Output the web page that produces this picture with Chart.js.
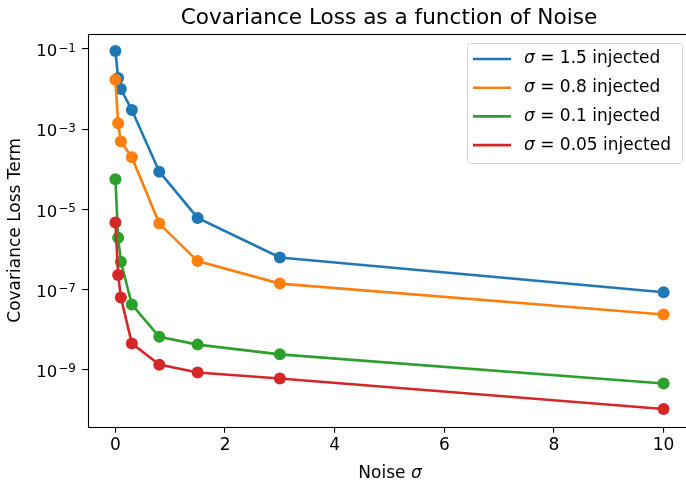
<!DOCTYPE html>
<html>
<head>
<meta charset="utf-8">
<script src="https://cdn.jsdelivr.net/npm/chart.js@4"></script>
<style>
  html, body { margin: 0; padding: 0; background: #fff; overflow: hidden; }
  #outer { width: 686px; height: 480px; overflow: hidden; }
  #wrap { width: 691px; height: 480px; }
</style>
</head>
<body>
<div id="outer"><div id="wrap"><canvas id="chart"></canvas></div></div>
<script>
// Datos
const noise = [0, 0.05, 0.1, 0.3, 0.8, 1.5, 3, 10];
const injected = ["1.5", "0.8", "0.1", "0.05"];
const loss15 = [8.9e-2, 1.9e-2, 1.0e-2, 3.0e-3, 8.7e-5, 6.1e-6, 6.3e-7, 8.5e-8];
const loss08 = [1.7e-2, 1.4e-3, 4.9e-4, 2.0e-4, 4.4e-6, 5.1e-7, 1.4e-7, 2.37e-8];
const loss01 = [5.6e-5, 1.96e-6, 4.9e-7, 4.2e-8, 6.6e-9, 4.2e-9, 2.4e-9, 4.5e-10];
const loss005 = [4.7e-6, 2.3e-7, 6.3e-8, 4.5e-9, 1.33e-9, 8.5e-10, 6.0e-10, 1.04e-10];
const yTicks = [1e-9, 1e-7, 1e-5, 1e-3, 1e-1];
const yTickExp = ["−9", "−7", "−5", "−3", "−1"];
const xTicks = [0, 2, 4, 6, 8, 10];

const colors = ["#1f77b4", "#ff7f0e", "#2ca02c", "#d62728"];
const series = [loss15, loss08, loss01, loss005];
const FONT = "'DejaVu Sans', sans-serif";

const datasets = series.map((vals, i) => ({
  label: "σ = " + injected[i] + " injected",
  data: noise.map((x, j) => ({ x: x, y: vals[j] })),
  borderColor: colors[i],
  backgroundColor: colors[i],
  pointBackgroundColor: colors[i],
  pointBorderWidth: 0,
  pointRadius: 6,
  borderWidth: 2.6,
  tension: 0,
  order: 3 - i
}));

// Marco, título, etiquetas del eje y, etiqueta del eje x y leyenda
const decor = {
  id: "decor",
  afterDraw(chart) {
    const { ctx, chartArea: a } = chart;
    ctx.save();
    ctx.strokeStyle = "#000";
    ctx.lineWidth = 1.1;
    ctx.strokeRect(Math.round(a.left) + 0.5, Math.round(a.top) + 0.5,
      Math.round(a.right - a.left), Math.round(a.bottom - a.top));

    ctx.fillStyle = "#000";
    ctx.textBaseline = "alphabetic";
    ctx.textAlign = "center";
    ctx.font = "21.6px " + FONT;
    ctx.fillText("Covariance Loss as a function of Noise", 389, 24);

    // etiquetas 10^n
    const ys = chart.scales.y;
    ctx.textAlign = "left";
    yTicks.forEach((v, i) => {
      const py = ys.getPixelForValue(v);
      ctx.font = "12px " + FONT;
      const ew = ctx.measureText(yTickExp[i]).width;
      ctx.font = "16.5px " + FONT;
      const bw = ctx.measureText("10").width;
      const xe = 76 - ew;
      ctx.fillText("10", xe - bw - 1, py + 7.3);
      ctx.font = "12px " + FONT;
      ctx.fillText(yTickExp[i], xe, py + 2.7);
    });

    // "Noise σ"
    ctx.font = "17px " + FONT;
    const w1 = ctx.measureText("Noise ").width;
    ctx.font = "italic 17px " + FONT;
    const w2 = ctx.measureText("σ").width;
    const x0 = 390 - (w1 + w2) / 2;
    ctx.font = "17px " + FONT;
    ctx.fillText("Noise ", x0, 478);
    ctx.font = "italic 17px " + FONT;
    ctx.fillText("σ", x0 + w1, 478);

    // leyenda
    const bx = 467, by = 43, bw = 215, bh = 120;
    ctx.beginPath();
    ctx.roundRect(bx + 0.5, by + 0.5, bw, bh, 3);
    ctx.fillStyle = "rgba(255,255,255,0.8)";
    ctx.fill();
    ctx.strokeStyle = "#d6d6d6";
    ctx.lineWidth = 1;
    ctx.stroke();
    ctx.textBaseline = "middle";
    chart.data.datasets.forEach((ds, i) => {
      const y = 59 + i * 28.7;
      ctx.strokeStyle = ds.borderColor;
      ctx.lineWidth = 2.6;
      ctx.beginPath();
      ctx.moveTo(473, y);
      ctx.lineTo(511, y);
      ctx.stroke();
      ctx.fillStyle = "#000";
      ctx.font = "italic 17px " + FONT;
      ctx.fillText("σ", 524, y);
      const sw = ctx.measureText("σ").width;
      ctx.font = "17px " + FONT;
      ctx.fillText(" = " + injected[i] + " injected", 524 + sw, y);
    });
    ctx.restore();
  }
};

new Chart(document.getElementById("chart"), {
  type: "line",
  data: { datasets: datasets },
  options: {
    responsive: true,
    maintainAspectRatio: false,
    animation: false,
    layout: { autoPadding: false, padding: { top: 34, right: 0, left: 0, bottom: 0 } },
    plugins: {
      legend: { display: false },
      tooltip: { enabled: false }
    },
    scales: {
      x: {
        type: "linear",
        min: -0.5,
        max: 10.5,
        afterBuildTicks: (s) => { s.ticks = xTicks.map(v => ({ value: v })); },
        afterFit: (s) => { s.height = 53.3; s.paddingLeft = 0; s.paddingRight = 0; },
        ticks: { color: "#000", font: { family: FONT, size: 17 }, padding: 3 },
        grid: { drawOnChartArea: false, drawTicks: true, tickLength: 6, tickColor: "#000", lineWidth: 1.1 },
        border: { display: false }
      },
      y: {
        type: "logarithmic",
        min: Math.pow(10, -10.425),
        max: Math.pow(10, -0.625),
        afterBuildTicks: (s) => { s.ticks = yTicks.map(v => ({ value: v })); },
        afterFit: (s) => { s.width = 88; s.paddingTop = 0; s.paddingBottom = 0; },
        ticks: {
          color: "#000",
          font: { family: FONT, size: 16 },
          padding: 3,
          callback: () => ""
        },
        grid: { drawOnChartArea: false, drawTicks: true, tickLength: 6, tickColor: "#000", lineWidth: 1.1 },
        border: { display: false },
        title: {
          display: true,
          text: "Covariance Loss Term",
          color: "#000",
          font: { family: FONT, size: 17 },
          padding: { top: 5, bottom: 0 }
        }
      }
    }
  },
  plugins: [decor]
});
</script>
</body>
</html>
